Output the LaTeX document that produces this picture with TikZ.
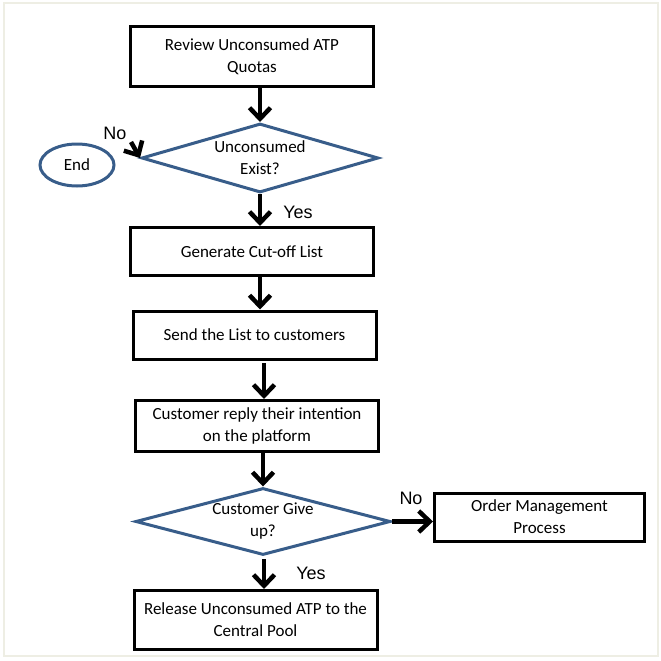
\documentclass[tikz,border=0pt]{standalone}
\usepackage{fontspec}
\setmainfont{Carlito}
\newfontfamily\labelfont{Liberation Sans}
\usetikzlibrary{shapes.geometric,arrows.meta}
\definecolor{shapeblue}{RGB}{56,93,138}
\definecolor{framegray}{RGB}{238,238,228}
\begin{document}
\begin{tikzpicture}[
    x=1pt, y=-1pt,
    stepbox/.style={rectangle, draw=black, line width=3pt, fill=white, minimum width=243pt, minimum height=48pt, font=\fontsize{17}{22}\selectfont, align=center, inner sep=2pt},
    decision/.style={diamond, draw=shapeblue, line width=3pt, fill=white, minimum width=237pt, minimum height=69pt, aspect=3.4, inner sep=0pt, font=\fontsize{17}{22}\selectfont, align=center},
    terminal/.style={ellipse, draw=shapeblue, line width=3pt, fill=white, minimum width=74pt, minimum height=42pt, inner sep=0pt, font=\fontsize{17}{22}\selectfont},
    flowarrow/.style={-{Straight Barb[length=11pt, width=21pt]}, line width=4.5pt},
    answer/.style={font=\labelfont\fontsize{18}{20}\selectfont},
]
\useasboundingbox (0,0) rectangle (661,661);
\draw[framegray, line width=2.5pt] (4,3) rectangle (658,656);

\node[stepbox, minimum height=60pt] (review) at (252,56.5) {Review Unconsumed ATP\\Quotas};
\node[decision] (exist) at (260,158) {Unconsumed\\Exist?};
\node[terminal] (end) at (77,165) {End};
\node[stepbox] (cutoff) at (252,251.5) {Generate Cut-off List};
\node[stepbox] (send) at (254.5,335) {Send the List to customers};
\node[stepbox, minimum height=51pt] (reply) at (257,426) {Customer reply their intention\\on the platform};
\node[decision, minimum width=255pt, minimum height=67pt, aspect=3.8] (giveup) at (263,521.5) {Customer Give\\up?};
\node[stepbox, minimum width=210pt] (order) at (539.5,517) {Order Management\\Process};
\node[stepbox, minimum height=59pt] (release) at (255.5,620) {Release Unconsumed ATP to the\\Central Pool};

\coordinate (nostart) at (131,142);
\coordinate (sendout) at (264,363);
\coordinate (giveout) at (264,559);

\draw[flowarrow] (exist.north |- review.south) -- (exist.north);
\draw[flowarrow] (nostart) -- (exist.west);
\draw[flowarrow] (exist.south) -- (exist.south |- cutoff.north);
\draw[flowarrow] (exist.south |- cutoff.south) -- (exist.south |- send.north);
\draw[flowarrow] (sendout) -- (sendout |- reply.north);
\draw[flowarrow] (giveup.north |- reply.south) -- (giveup.north);
\draw[flowarrow] (giveup.east) -- (giveup.east -| order.west);
\draw[flowarrow] (giveout) -- (giveout |- release.north);

\node[answer] (nolabel) at (115,133) {No};
\node[answer] (yeslabel) at (298,212) {Yes};
\node[answer] (nolabel2) at (411,498) {No};
\node[answer] (yeslabel2) at (311,573) {Yes};
\end{tikzpicture}
\end{document}
